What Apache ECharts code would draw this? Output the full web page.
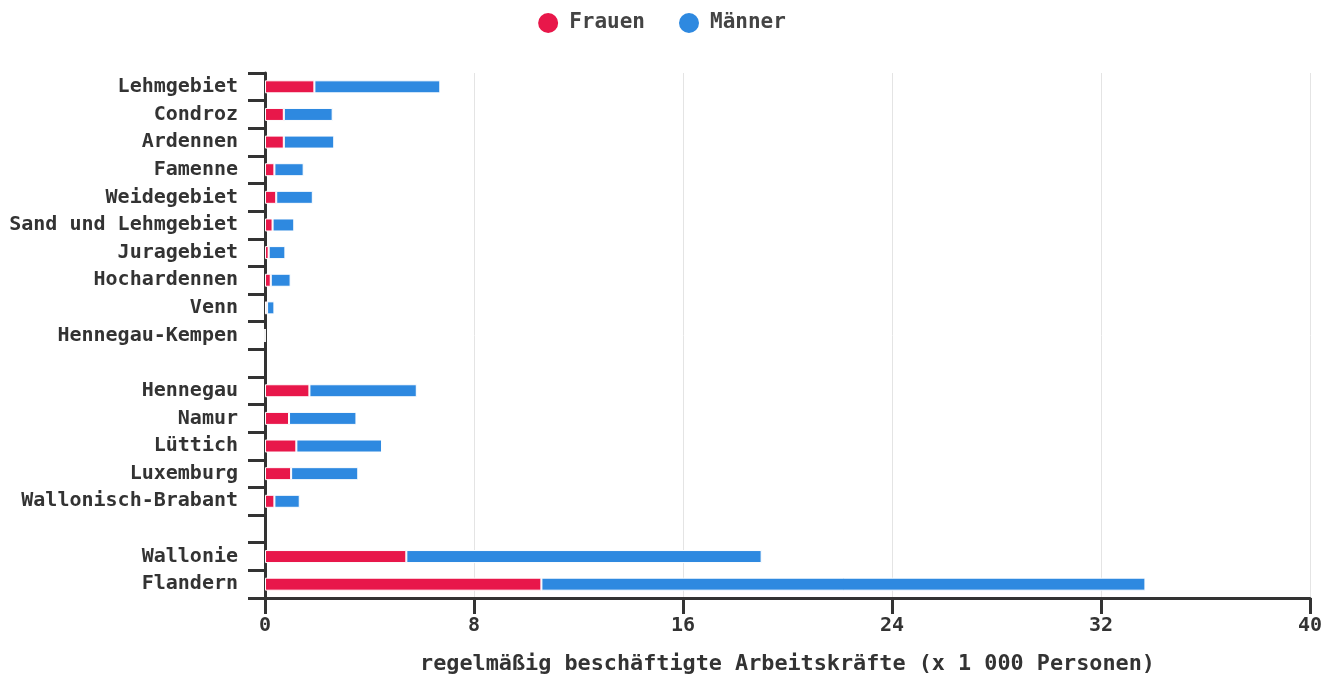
<!DOCTYPE html>
<html>
<head>
<meta charset="utf-8">
<script src="https://cdn.jsdelivr.net/npm/echarts@6/dist/echarts.min.js"></script>
<style>
html,body{margin:0;padding:0;background:#fff;}
#chart{width:1322px;height:675px;}
</style>
</head>
<body>
<div id="chart"></div>
<script>
var categories = ['Lehmgebiet','Condroz','Ardennen','Famenne','Weidegebiet','Sand und Lehmgebiet','Juragebiet','Hochardennen','Venn','Hennegau-Kempen',' ','Hennegau','Namur','Lüttich','Luxemburg','Wallonisch-Brabant','  ','Wallonie','Flandern'];
var frauen = [1.89,0.72,0.72,0.36,0.43,0.29,0.14,0.22,0.08,0,null,1.70,0.92,1.20,1.00,0.36,null,5.41,10.58];
var maenner = [4.82,1.87,1.93,1.12,1.40,0.83,0.64,0.76,0.28,0,null,4.11,2.58,3.28,2.57,0.97,null,13.60,23.12];
var xTicks = [0,8,16,24,32,40];
var xTitle = 'regelmäßig beschäftigte Arbeitskräfte (x 1 000 Personen)';

var FONT = '"DejaVu Sans Mono", monospace';
var chart = echarts.init(document.getElementById('chart'), null, {renderer:'canvas'});
chart.setOption({
  animation:false,
  color:['#E8174A','#2E89E0'],
  legend:{
    top:6, left:'center',
    icon:'circle', itemWidth:32, itemHeight:22, itemGap:32,
    textStyle:{fontFamily:FONT, fontWeight:'bold', fontSize:21, color:'#444'},
    data:['Frauen','Männer']
  },
  grid:{left:265, right:12, top:73, bottom:77, containLabel:false, outerBoundsMode:'none'},
  xAxis:{
    type:'value', min:xTicks[0], max:xTicks[xTicks.length-1], interval:8,
    name:xTitle, nameLocation:'middle', nameGap:55,
    nameTextStyle:{fontFamily:FONT, fontWeight:'bold', fontSize:21.8, color:'#333'},
    axisLine:{show:true, lineStyle:{color:'#333', width:3}},
    axisTick:{show:true, length:16, lineStyle:{color:'#333', width:3}},
    axisLabel:{margin:18, fontFamily:FONT, fontWeight:'bold', fontSize:20, color:'#333'},
    splitLine:{show:true, lineStyle:{color:'#e4e4e4', width:1}}
  },
  yAxis:{
    type:'category', inverse:true, data:categories,
    axisLine:{show:true, lineStyle:{color:'#333', width:3}},
    axisTick:{show:true, length:17, alignWithLabel:false, lineStyle:{color:'#333', width:3}},
    axisLabel:{margin:27, fontFamily:FONT, fontWeight:'bold', fontSize:20, color:'#333'},
    splitLine:{show:false}
  },
  series:[
    {name:'Frauen', type:'bar', stack:'t', barWidth:13, data:frauen,
     itemStyle:{borderColor:'#fff', borderWidth:1}},
    {name:'Männer', type:'bar', stack:'t', barWidth:13, data:maenner,
     itemStyle:{borderColor:'#fff', borderWidth:1}}
  ]
});
</script>
</body>
</html>
